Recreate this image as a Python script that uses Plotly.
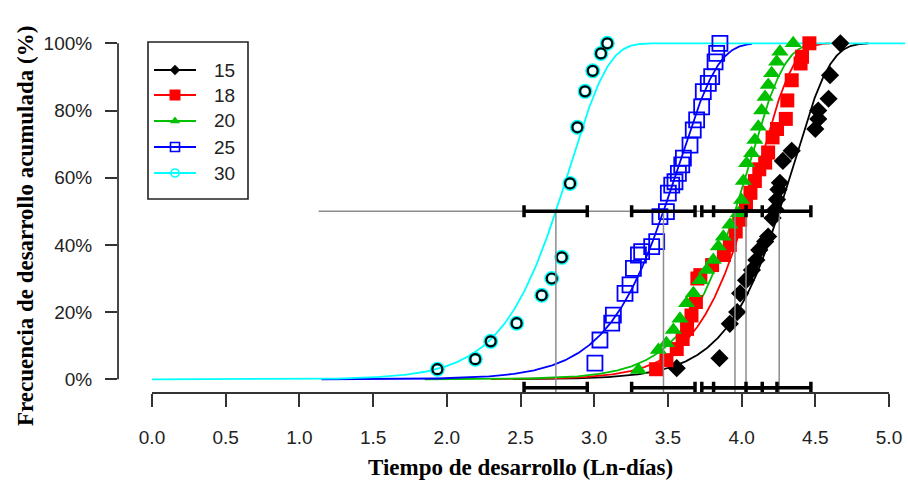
import numpy as np
import plotly.graph_objects as go

# ---------------- data ----------------
series_names = ["15", "18", "20", "25", "30"]
colors = ["#000000", "#ff0000", "#00c000", "#0000ff", "#00ffff"]

# fitted (Weibull on log-time) curves: median and scale
medians = [4.255, 4.03, 3.955, 3.47, 2.74]
scales = [0.25, 0.235, 0.245, 0.27, 0.26]
curve_start = [2.45, 2.30, 1.85, 1.15, 0.0]
curve_end = [4.86, 4.60, 4.50, 4.07, 5.11]

# confidence intervals of the median
ci_low = [4.03, 3.81, 3.73, 3.254, 2.524]
ci_high = [4.47, 4.24, 4.14, 3.684, 2.953]
ref_line_start = 1.13
ci_level = 0.5
ci_bottom_level = -0.025

# observed points
x15 = [3.56, 3.85, 3.92, 3.97, 3.99, 4.03, 4.07, 4.10, 4.12, 4.16, 4.18, 4.21, 4.23, 4.24,
       4.25, 4.26, 4.28, 4.34, 4.50, 4.52, 4.52, 4.59, 4.60, 4.67]
y15 = [0.033, 0.063, 0.165, 0.20, 0.256, 0.295, 0.325, 0.355, 0.385, 0.41, 0.425, 0.48, 0.505, 0.535,
       0.565, 0.585, 0.65, 0.68, 0.745, 0.775, 0.80, 0.835, 0.905, 1.0]

x18 = [3.42, 3.49, 3.56, 3.60, 3.63, 3.66, 3.69, 3.70, 3.72, 3.80, 3.88, 3.92, 3.96, 3.99,
       4.03, 4.06, 4.09, 4.12, 4.16, 4.18, 4.21, 4.24, 4.30, 4.31, 4.34, 4.40, 4.41, 4.46]
y18 = [0.03, 0.057, 0.09, 0.12, 0.15, 0.19, 0.23, 0.30, 0.31, 0.34, 0.37, 0.40, 0.44, 0.475,
       0.52, 0.555, 0.59, 0.625, 0.645, 0.675, 0.72, 0.745, 0.775, 0.83, 0.89, 0.94, 0.96, 1.0]

x20 = [3.30, 3.435, 3.49, 3.537, 3.582, 3.627, 3.673, 3.718, 3.763, 3.808, 3.842, 3.876, 3.921,
       3.978, 4.0, 4.012, 4.034, 4.068, 4.09, 4.113, 4.136, 4.159, 4.181, 4.204, 4.238, 4.26, 4.35]
y20 = [0.028, 0.087, 0.107, 0.147, 0.18, 0.226, 0.256, 0.295, 0.325, 0.355, 0.395, 0.424, 0.46,
       0.494, 0.534, 0.59, 0.643, 0.673, 0.712, 0.752, 0.80, 0.84, 0.876, 0.911, 0.945, 0.975, 1.0]

x25 = [3.005, 3.039, 3.119, 3.130, 3.209, 3.243, 3.266, 3.300, 3.322, 3.390, 3.424, 3.446, 3.49,
       3.503, 3.526, 3.548, 3.571, 3.594, 3.605, 3.65, 3.672, 3.695, 3.729, 3.740, 3.774, 3.797,
       3.820, 3.831, 3.853]
y25 = [0.048, 0.117, 0.167, 0.191, 0.256, 0.281, 0.330, 0.370, 0.380, 0.395, 0.410, 0.484, 0.499,
       0.554, 0.578, 0.588, 0.613, 0.638, 0.658, 0.697, 0.742, 0.772, 0.811, 0.856, 0.881, 0.901,
       0.945, 0.970, 1.0]

x30 = [1.936, 2.193, 2.298, 2.474, 2.644, 2.712, 2.780, 2.836, 2.886, 2.938, 2.99, 3.046, 3.089]
y30 = [0.030, 0.060, 0.113, 0.167, 0.25, 0.30, 0.363, 0.583, 0.75, 0.857, 0.918, 0.970, 1.0]

points_x = [x15, x18, x20, x25, x30]
points_y = [y15, y18, y20, y25, y30]

x_tick_vals = [0.0, 0.5, 1.0, 1.5, 2.0, 2.5, 3.0, 3.5, 4.0, 4.5, 5.0]
x_tick_text = ["0.0", "0.5", "1.0", "1.5", "2.0", "2.5", "3.0", "3.5", "4.0", "4.5", "5.0"]
y_tick_vals = [0.0, 0.2, 0.4, 0.6, 0.8, 1.0]
y_tick_text = ["0%", "20%", "40%", "60%", "80%", "100%"]

x_title = "Tiempo de desarrollo (Ln-días)"
y_title = "Frecuencia de desarrollo acumulada (%)"

# ---------------- layout geometry ----------------
W, H = 908, 484
L, R, T, B = 118, 0, 30, 91
PW, PH = W - L - R, H - T - B


def px_x(p):
    return (p - L) / PW


def px_y(p):
    return (H - B - p) / PH


marker_styles = [
    dict(symbol="diamond", size=14, color="#000000"),
    dict(symbol="square", size=14, color="#ff0000"),
    dict(symbol="triangle-up", size=15, color="#00c000"),
    dict(symbol="square-open", size=15, color="#0000ff", line=dict(width=1.8, color="#0000ff")),
    dict(symbol="circle-open", size=10, color="#000000", line=dict(width=2.2, color="#000000")),
]
legend_marker_styles = [
    dict(symbol="diamond", size=8, color="#000000"),
    dict(symbol="square", size=11, color="#ff0000"),
    dict(symbol="triangle-up", size=9, color="#00c000"),
    dict(symbol="square-open", size=9, color="#0000ff", line=dict(width=1.6, color="#0000ff")),
    dict(symbol="circle-open", size=8, color="#00ffff", line=dict(width=1.6, color="#00ffff")),
]

fig = go.Figure()

# fitted curves + points
for i, name in enumerate(series_names):
    xs = np.linspace(curve_start[i], curve_end[i], 600)
    mu = medians[i] + 0.3665 * scales[i]
    fs = 1 - np.exp(-np.exp((xs - mu) / scales[i]))
    fig.add_trace(go.Scatter(x=xs, y=fs, mode="lines",
                             line=dict(color=colors[i], width=1.8), showlegend=False,
                             hoverinfo="skip"))
for i, name in enumerate(series_names):
    if name == "30":
        fig.add_trace(go.Scatter(x=points_x[i], y=points_y[i], mode="markers",
                                 marker=dict(symbol="circle-open", size=11, color="#00ffff",
                                             line=dict(width=4, color="#00ffff")),
                                 showlegend=False))
    fig.add_trace(go.Scatter(x=points_x[i], y=points_y[i], mode="markers",
                             marker=marker_styles[i], showlegend=False, name=name))

# grey reference lines
fig.add_trace(go.Scatter(x=[ref_line_start, max(ci_high)], y=[ci_level, ci_level], mode="lines",
                         line=dict(color="#8c8c8c", width=1.5), showlegend=False, hoverinfo="skip"))
for m in medians:
    fig.add_trace(go.Scatter(x=[m, m], y=[ci_level, -0.05], mode="lines",
                             line=dict(color="#8c8c8c", width=1.5), showlegend=False,
                             hoverinfo="skip"))

# confidence interval bars
for lev in [ci_level, ci_bottom_level]:
    fig.add_trace(go.Scatter(
        x=medians, y=[lev] * len(medians), mode="markers",
        marker=dict(size=1, color="rgba(0,0,0,0)"),
        error_x=dict(type="data", symmetric=False,
                     array=[h - m for h, m in zip(ci_high, medians)],
                     arrayminus=[m - l for l, m in zip(ci_low, medians)],
                     color="#000000", thickness=3.5, width=6),
        showlegend=False, hoverinfo="skip"))

# manual legend in pixel coordinates (overlay axes)
leg_rows = [70, 95, 121, 147, 173]
for i, name in enumerate(series_names):
    fig.add_trace(go.Scatter(x=[154, 196], y=[leg_rows[i], leg_rows[i]], mode="lines",
                             line=dict(color=colors[i], width=2), xaxis="x2", yaxis="y2",
                             showlegend=False, hoverinfo="skip"))
    fig.add_trace(go.Scatter(x=[175], y=[leg_rows[i]], mode="markers",
                             marker=legend_marker_styles[i], xaxis="x2", yaxis="y2",
                             showlegend=False, hoverinfo="skip"))

annotations = []
for i, name in enumerate(series_names):
    annotations.append(dict(x=px_x(212), y=px_y(leg_rows[i]), xref="paper", yref="paper",
                            text=name, showarrow=False, xanchor="left", yanchor="middle",
                            font=dict(family="Liberation Sans, Arial", size=19, color="#222222")))
annotations.append(dict(x=2.5, y=px_y(467), xref="x", yref="paper", text="<b>" + x_title + "</b>",
                        showarrow=False, xanchor="center", yanchor="middle",
                        font=dict(family="Liberation Serif, Times New Roman", size=23,
                                  color="#000000")))
annotations.append(dict(x=px_x(25), y=px_y(226), xref="paper", yref="paper",
                        text="<b>" + y_title + "</b>",
                        showarrow=False, xanchor="center", yanchor="middle", textangle=-90,
                        font=dict(family="Liberation Serif, Times New Roman", size=23,
                                  color="#000000")))

shapes = [
    # legend box
    dict(type="rect", xref="paper", yref="paper", x0=px_x(148), x1=px_x(248),
         y0=px_y(199), y1=px_y(42), line=dict(color="#222222", width=1.6)),
    # axis lines spanning the tick range only
    dict(type="line", xref="x", yref="paper", x0=x_tick_vals[0], x1=x_tick_vals[-1],
         y0=0, y1=0, line=dict(color="#333333", width=1.8)),
    dict(type="line", xref="paper", yref="y", x0=0, x1=0, y0=y_tick_vals[0],
         y1=y_tick_vals[-1], line=dict(color="#333333", width=1.8)),
]

x_px0, x_px_per = 152.0, 147.4
y_px0, y_px_per = 379.3, 336.0

fig.update_layout(
    width=W, height=H,
    margin=dict(l=L, r=R, t=T, b=B, pad=0),
    paper_bgcolor="white", plot_bgcolor="white",
    showlegend=False,
    xaxis=dict(range=[(L - x_px0) / x_px_per, (W - R - x_px0) / x_px_per],
               tickvals=x_tick_vals, ticktext=x_tick_text, ticks="outside", ticklen=13,
               tickwidth=1.8, tickcolor="#333333", showgrid=False, zeroline=False,
               showline=False, ticklabelstandoff=14,
               tickfont=dict(family="Liberation Sans, Arial", size=19, color="#222222")),
    yaxis=dict(range=[(y_px0 - (H - B)) / y_px_per, (y_px0 - T) / y_px_per],
               tickvals=y_tick_vals, ticktext=y_tick_text, ticks="outside", ticklen=12,
               tickwidth=1.8, tickcolor="#333333", showgrid=False, zeroline=False,
               showline=False, ticklabelstandoff=9,
               tickfont=dict(family="Liberation Sans, Arial", size=19, color="#222222")),
    xaxis2=dict(range=[L, W - R], overlaying="x", anchor="y2", visible=False),
    yaxis2=dict(range=[H - B, T], overlaying="y", anchor="x2", visible=False),
    annotations=annotations,
    shapes=shapes,
)

fig.write_html("out.html")
